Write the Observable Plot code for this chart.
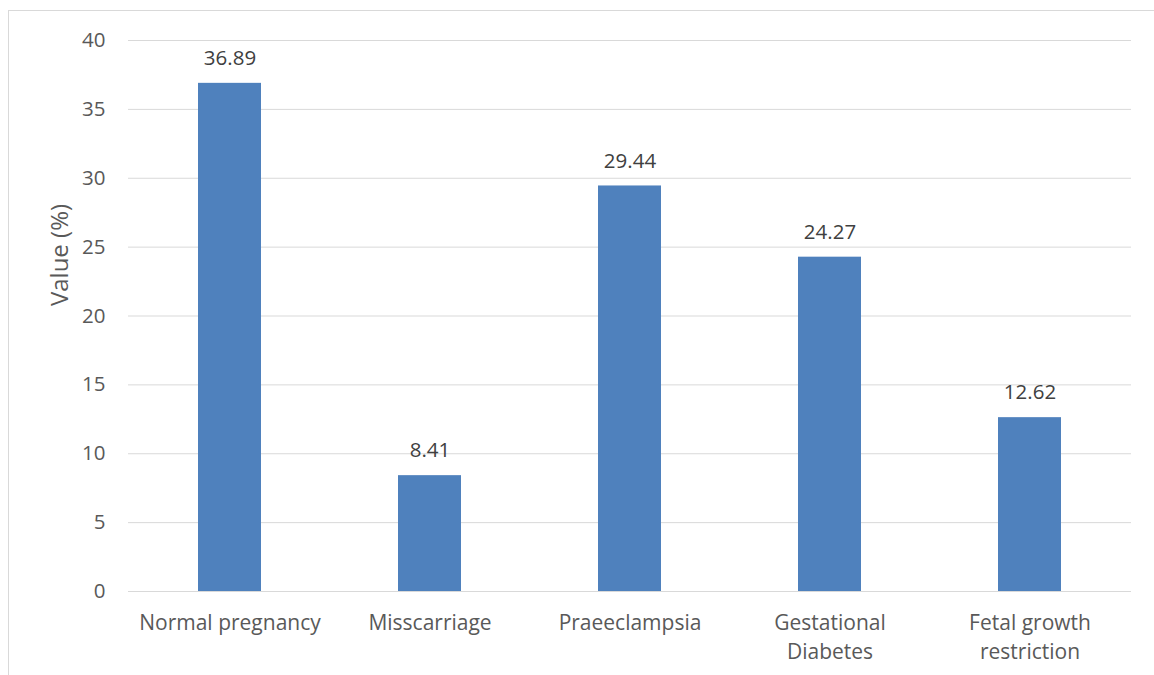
<!DOCTYPE html>
<html>
<head>
<meta charset="utf-8">
<script src="https://cdn.jsdelivr.net/npm/d3@7"></script>
<script src="https://cdn.jsdelivr.net/npm/@observablehq/plot@0.6"></script>
<style>
  html, body { margin: 0; padding: 0; background: #fff; }
  #wrap { position: relative; width: 1154px; height: 675px; overflow: hidden; }
  #border { position: absolute; left: 8px; top: 10px; width: 1200px; height: 700px; border: 1px solid #d9d9d9; box-sizing: border-box; }
  #chart { position: absolute; left: 0; top: 0; }
</style>
</head>
<body>
<div id="wrap"><div id="border"></div><div id="chart"></div></div>
<script>
const categories = ["Normal pregnancy", "Misscarriage", "Praeeclampsia", "Gestational\nDiabetes", "Fetal growth\nrestriction"];
const values = [36.89, 8.41, 29.44, 24.27, 12.62];
const yTicks = [0, 5, 10, 15, 20, 25, 30, 35, 40];
const yLabel = "Value (%)";

const data = categories.map((c, i) => ({category: c, value: values[i]}));
const font = "'Open Sans', sans-serif";

const chart = Plot.plot({
  width: 1154,
  height: 675,
  marginLeft: 128,
  marginRight: 23,
  marginTop: 40,
  marginBottom: 84,
  style: {fontFamily: font, background: "transparent", overflow: "visible"},
  x: {domain: categories, paddingInner: 0.686, paddingOuter: 0.343, label: null},
  y: {domain: [0, 40], label: null},
  marks: [
    Plot.gridY(yTicks, {stroke: "#d9d9d9", strokeOpacity: 1, strokeWidth: 1}),
    Plot.barY(data, {x: "category", y: "value", fill: "#4f81bd"}),
    Plot.text(data, {x: "category", y: "value", text: d => d.value.toFixed(2), dy: -25, fill: "#404040", fontSize: 20.5}),
    Plot.axisY({ticks: yTicks, tickSize: 0, tickPadding: 23, label: null, fontSize: 20.5, color: "#595959"}),
    Plot.axisX({tickSize: 0, tickPadding: 18, label: null, fontSize: 21, color: "#595959", lineHeight: 1.38}),
    Plot.text([yLabel], {frameAnchor: "left", textAnchor: "middle", text: d => d, rotate: -90, dx: -68, dy: -61, fontSize: 24, fill: "#595959"})
  ]
});
document.getElementById("chart").appendChild(chart);
</script>
</body>
</html>
